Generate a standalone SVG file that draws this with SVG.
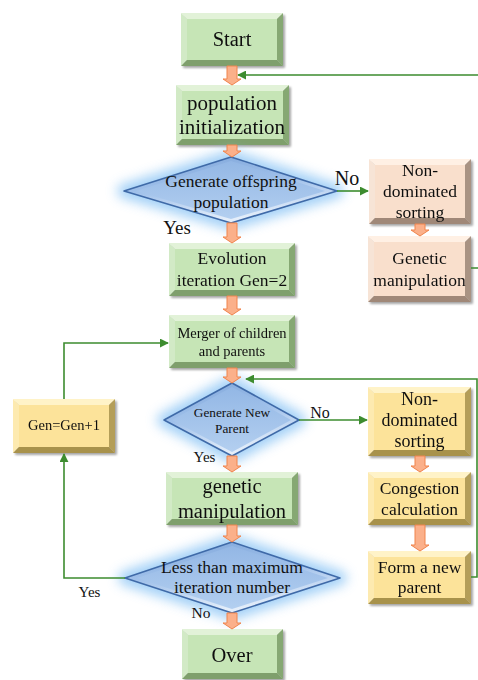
<svg xmlns="http://www.w3.org/2000/svg" width="478" height="680" viewBox="0 0 478 680">
<style>
text{font-family:"Liberation Serif","Times New Roman",serif;fill:#111;text-anchor:middle}
.gt{fill:#e2f2d8}.gl{fill:#d2eac6}.gr{fill:#86a873}.gb{fill:#7f9f6c}.gf{fill:#c6e5b6}
.pt{fill:#fff0e4}.pl{fill:#f7e4d6}.pr{fill:#a99383}.pb{fill:#a08878}.pf{fill:#f9dfcc}
.yt{fill:#fff3c8}.yl{fill:#fdeab0}.yr{fill:#b49e58}.yb{fill:#a8924c}.yf{fill:#fce39a}
.box{filter:url(#sh)}
.glow{fill:#8ec6f5;stroke:#8ec6f5;stroke-width:14;stroke-linejoin:round;filter:url(#blur);opacity:.8}
.dout{fill:url(#dg1);stroke:#3f6aa8;stroke-width:1.6;stroke-linejoin:round}
.din{fill:url(#dg2)}
.ba{fill:#fbb08a;stroke:#f0844c;stroke-width:1}
.cn{fill:none;stroke:#3d8c2f;stroke-width:1.6}
</style>
<defs>
<filter id="sh" x="-10%" y="-10%" width="130%" height="130%"><feDropShadow dx="2" dy="2" stdDeviation="1.2" flood-color="#000" flood-opacity="0.35"/></filter>
<filter id="blur" x="-30%" y="-70%" width="160%" height="240%"><feGaussianBlur stdDeviation="6"/></filter>
<linearGradient id="dg1" x1="0" y1="0" x2="0.3" y2="1"><stop offset="0" stop-color="#7fa6da"/><stop offset="0.5" stop-color="#9fc0ea"/><stop offset="1" stop-color="#e4eefa"/></linearGradient>
<linearGradient id="dg2" x1="0" y1="0" x2="0" y2="1"><stop offset="0" stop-color="#93b7e5"/><stop offset="1" stop-color="#b3cff0"/></linearGradient>
<marker id="ah" viewBox="0 0 10 10" refX="9" refY="5" markerWidth="9" markerHeight="9" markerUnits="userSpaceOnUse" orient="auto"><path d="M0,0 L10,5 L0,10 z" fill="#3d8c2f"/></marker>
</defs>

<g id="start" class="box">
<polygon class="gt" points="181,13 283,13 277,19 187,19"/>
<polygon class="gl" points="181,13 187,19 187,60 181,66"/>
<polygon class="gr" points="283,13 283,66 277,60 277,19"/>
<polygon class="gb" points="181,66 283,66 277,60 187,60"/>
<rect class="gf" x="187" y="19" width="90" height="41"/>
<text x="232" y="46" style="font-size:20.5px">Start</text>
</g>

<g id="pop-init" class="box">
<polygon class="gt" points="176,85 289,85 283,91 182,91"/>
<polygon class="gl" points="176,85 182,91 182,139 176,145"/>
<polygon class="gr" points="289,85 289,145 283,139 283,91"/>
<polygon class="gb" points="176,145 289,145 283,139 182,139"/>
<rect class="gf" x="182" y="91" width="101" height="48"/>
<text x="232" y="110" style="font-size:21px">population</text>
<text x="232" y="134" style="font-size:21px">initialization</text>
</g>

<g id="d-offspring">
<polygon class="glow" points="231,157 337,191 231,223 124,191"/>
<polygon class="dout" points="231,157 337,191 231,223 124,191"/>
<polygon class="din" points="231,161 325,191 231,219 136,191"/>
<text x="231" y="187" style="font-size:17.5px">Generate offspring</text>
<text x="231" y="207.5" style="font-size:17.5px">population</text>
</g>

<g id="nd-sort-1" class="box">
<polygon class="pt" points="369,159 471,159 465,165 375,165"/>
<polygon class="pl" points="369,159 375,165 375,218 369,224"/>
<polygon class="pr" points="471,159 471,224 465,218 465,165"/>
<polygon class="pb" points="369,224 471,224 465,218 375,218"/>
<rect class="pf" x="375" y="165" width="90" height="53"/>
<text x="420" y="176" style="font-size:17.5px">Non-</text>
<text x="420" y="197" style="font-size:17.5px">dominated</text>
<text x="420" y="218" style="font-size:17.5px">sorting</text>
</g>

<g id="gen-manip-1" class="box">
<polygon class="pt" points="368,236 471,236 465,242 374,242"/>
<polygon class="pl" points="368,236 374,242 374,296 368,302"/>
<polygon class="pr" points="471,236 471,302 465,296 465,242"/>
<polygon class="pb" points="368,302 471,302 465,296 374,296"/>
<rect class="pf" x="374" y="242" width="91" height="54"/>
<text x="419.5" y="264" style="font-size:17.5px">Genetic</text>
<text x="419.5" y="286" style="font-size:17.5px">manipulation</text>
</g>

<g id="evolution" class="box">
<polygon class="gt" points="169,243 295,243 289,249 175,249"/>
<polygon class="gl" points="169,243 175,249 175,290 169,296"/>
<polygon class="gr" points="295,243 295,296 289,290 289,249"/>
<polygon class="gb" points="169,296 295,296 289,290 175,290"/>
<rect class="gf" x="175" y="249" width="114" height="41"/>
<text x="232" y="264" style="font-size:17.5px">Evolution</text>
<text x="232" y="286" style="font-size:17.5px">iteration Gen=2</text>
</g>

<g id="merger" class="box">
<polygon class="gt" points="169,315 295,315 289,321 175,321"/>
<polygon class="gl" points="169,315 175,321 175,362 169,368"/>
<polygon class="gr" points="295,315 295,368 289,362 289,321"/>
<polygon class="gb" points="169,368 295,368 289,362 175,362"/>
<rect class="gf" x="175" y="321" width="114" height="41"/>
<text x="232" y="338" style="font-size:14.5px">Merger of children</text>
<text x="232" y="356" style="font-size:14.5px">and parents</text>
</g>

<g id="gen-inc" class="box">
<polygon class="yt" points="13,399 115,399 109,405 19,405"/>
<polygon class="yl" points="13,399 19,405 19,447 13,453"/>
<polygon class="yr" points="115,399 115,453 109,447 109,405"/>
<polygon class="yb" points="13,453 115,453 109,447 19,447"/>
<rect class="yf" x="19" y="405" width="90" height="42"/>
<text x="64" y="430" style="font-size:14.5px">Gen=Gen+1</text>
</g>

<g id="d-new-parent">
<polygon class="glow" points="232,383 299,420 232,456 164,420"/>
<polygon class="dout" points="232,383 299,420 232,456 164,420"/>
<polygon class="din" points="232,387 291,420 232,452 172,420"/>
<text x="232" y="417" style="font-size:13.3px">Generate New</text>
<text x="232" y="433" style="font-size:13.3px">Parent</text>
</g>

<g id="nd-sort-2" class="box">
<polygon class="yt" points="368,387 471,387 465,393 374,393"/>
<polygon class="yl" points="368,387 374,393 374,450 368,456"/>
<polygon class="yr" points="471,387 471,456 465,450 465,393"/>
<polygon class="yb" points="368,456 471,456 465,450 374,450"/>
<rect class="yf" x="374" y="393" width="91" height="57"/>
<text x="419.5" y="405" style="font-size:18px">Non-</text>
<text x="419.5" y="426" style="font-size:18px">dominated</text>
<text x="419.5" y="447" style="font-size:18px">sorting</text>
</g>

<g id="gen-manip-2" class="box">
<polygon class="gt" points="166,472 298,472 292,478 172,478"/>
<polygon class="gl" points="166,472 172,478 172,519 166,525"/>
<polygon class="gr" points="298,472 298,525 292,519 292,478"/>
<polygon class="gb" points="166,525 298,525 292,519 172,519"/>
<rect class="gf" x="172" y="478" width="120" height="41"/>
<text x="232" y="493" style="font-size:20.5px">genetic</text>
<text x="232" y="518" style="font-size:20.5px">manipulation</text>
</g>

<g id="congestion" class="box">
<polygon class="yt" points="368,472 471,472 465,478 374,478"/>
<polygon class="yl" points="368,472 374,478 374,519 368,525"/>
<polygon class="yr" points="471,472 471,525 465,519 465,478"/>
<polygon class="yb" points="368,525 471,525 465,519 374,519"/>
<rect class="yf" x="374" y="478" width="91" height="41"/>
<text x="419.5" y="494" style="font-size:17.5px">Congestion</text>
<text x="419.5" y="515" style="font-size:17.5px">calculation</text>
</g>

<g id="d-max-iter">
<polygon class="glow" points="232,542 340,578 232,613 125,578"/>
<polygon class="dout" points="232,542 340,578 232,613 125,578"/>
<polygon class="din" points="232,546 328,578 232,609 137,578"/>
<text x="232" y="573" style="font-size:17.5px">Less than maximum</text>
<text x="232" y="592.5" style="font-size:17.5px">iteration number</text>
</g>

<g id="form-parent" class="box">
<polygon class="yt" points="368,551 471,551 465,557 374,557"/>
<polygon class="yl" points="368,551 374,557 374,598 368,604"/>
<polygon class="yr" points="471,551 471,604 465,598 465,557"/>
<polygon class="yb" points="368,604 471,604 465,598 374,598"/>
<rect class="yf" x="374" y="557" width="91" height="41"/>
<text x="419.5" y="572.5" style="font-size:17.5px">Form a new</text>
<text x="419.5" y="592.5" style="font-size:17.5px">parent</text>
</g>

<g id="over" class="box">
<polygon class="gt" points="182,629 283,629 277,635 188,635"/>
<polygon class="gl" points="182,629 188,635 188,673 182,679"/>
<polygon class="gr" points="283,629 283,679 277,673 277,635"/>
<polygon class="gb" points="182,679 283,679 277,673 188,673"/>
<rect class="gf" x="188" y="635" width="89" height="38"/>
<text x="232" y="662" style="font-size:20.5px">Over</text>
</g>

<g id="connectors">
<path class="cn" d="M471,268 H479 V75 H238" marker-end="url(#ah)"/>
<path class="cn" d="M337,191 H368" marker-end="url(#ah)"/>
<path class="cn" d="M64,399 V343 H168" marker-end="url(#ah)"/>
<path class="cn" d="M471,577 H477 V379 H246" marker-end="url(#ah)"/>
<path class="cn" d="M299,420 H367" marker-end="url(#ah)"/>
<path class="cn" d="M125,578 H64 V454" marker-end="url(#ah)"/>
<path class="ba" d="M227,66 H237 V79 H241 L232,85 L223,79 H227 Z"/>
<path class="ba" d="M227,145 H237 V151 H241 L232,157 L223,151 H227 Z"/>
<path class="ba" d="M227,223 H237 V237 H241 L232,243 L223,237 H227 Z"/>
<path class="ba" d="M227,296 H237 V309 H241 L232,315 L223,309 H227 Z"/>
<path class="ba" d="M227,368 H237 V377 H241 L232,383 L223,377 H227 Z"/>
<path class="ba" d="M227,456 H237 V466 H241 L232,472 L223,466 H227 Z"/>
<path class="ba" d="M227,525 H237 V536 H241 L232,542 L223,536 H227 Z"/>
<path class="ba" d="M227,613 H237 V623 H241 L232,629 L223,623 H227 Z"/>
<path class="ba" d="M415,224 H425 V230 H429 L420,236 L411,230 H415 Z"/>
<path class="ba" d="M415,456 H425 V466 H429 L420,472 L411,466 H415 Z"/>
<path class="ba" d="M415,525 H425 V545 H429 L420,551 L411,545 H415 Z"/>
<text x="347" y="185" style="font-size:20px">No</text>
<text x="177" y="234" style="font-size:19px">Yes</text>
<text x="320" y="418" style="font-size:16px">No</text>
<text x="204.5" y="462" style="font-size:15px">Yes</text>
<text x="89.5" y="596.5" style="font-size:15px">Yes</text>
<text x="201" y="618" style="font-size:15.5px">No</text>
</g>
</svg>
